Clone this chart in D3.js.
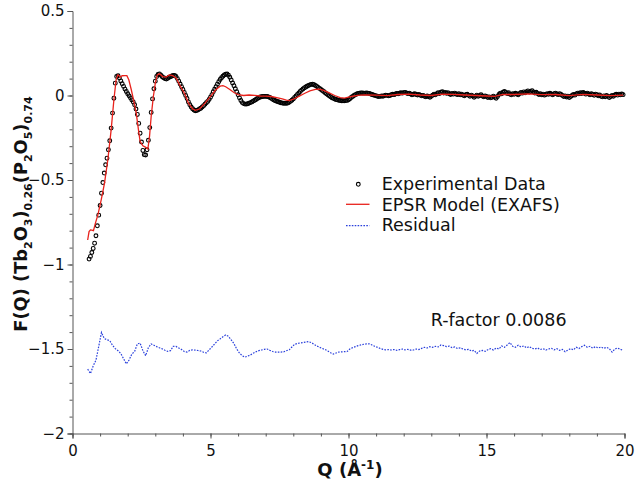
<!DOCTYPE html>
<html><head><meta charset="utf-8">
<script src="https://cdn.jsdelivr.net/npm/d3@7"></script>
<style>
body{margin:0;background:#fff}
svg{display:block;font-family:"DejaVu Sans",sans-serif}
</style>
</head><body>
<svg id="c" width="640" height="486"></svg>
<script>
// ---------------- data ----------------
// Experimental F(Q), sampled every 0.05 Å^-1, in four segments
const expStep = 0.05;
const expStarts = [0.60, 5.00, 10.00, 15.00];
const expA = [-0.968,-0.952,-0.929,-0.905,-0.874,-0.830,-0.771,-0.708,-0.651,-0.578,
  -0.515,-0.459,-0.410,-0.371,-0.321,-0.268,-0.193,-0.104,-0.016,0.073,
  0.112,0.117,0.103,0.086,0.070,0.054,0.038,0.024,0.010,-0.002,
  -0.014,-0.026,-0.038,-0.055,-0.080,-0.112,-0.165,-0.223,-0.275,-0.325,
  -0.350,-0.352,-0.321,-0.265,-0.190,-0.100,-0.020,0.040,0.085,0.112,
  0.124,0.128,0.120,0.111,0.105,0.101,0.098,0.102,0.108,0.111,
  0.115,0.118,0.119,0.113,0.100,0.085,0.068,0.052,0.036,0.018,
  0.000,-0.018,-0.038,-0.055,-0.068,-0.078,-0.086,-0.090,-0.089,-0.085,
  -0.080,-0.075,-0.068,-0.060,-0.052,-0.043,-0.035,-0.023];
const expB = [-0.010,0.005,0.022,0.037,0.052,0.067,0.082,0.095,0.105,0.114,
  0.121,0.126,0.127,0.120,0.108,0.092,0.074,0.058,0.040,0.022,
  0.004,-0.014,-0.030,-0.042,-0.048,-0.051,-0.051,-0.049,-0.045,-0.042,
  -0.038,-0.033,-0.028,-0.024,-0.018,-0.013,-0.009,-0.007,-0.006,-0.005,
  -0.005,-0.006,-0.008,-0.012,-0.017,-0.022,-0.027,-0.031,-0.034,-0.037,
  -0.040,-0.043,-0.045,-0.046,-0.046,-0.046,-0.045,-0.040,-0.034,-0.028,
  -0.020,-0.011,-0.002,0.006,0.015,0.024,0.032,0.039,0.045,0.050,
  0.055,0.059,0.063,0.066,0.067,0.064,0.059,0.054,0.048,0.042,
  0.036,0.030,0.024,0.017,0.010,0.004,-0.002,-0.008,-0.013,-0.017,
  -0.021,-0.024,-0.026,-0.028,-0.030,-0.031,-0.031,-0.031,-0.030,-0.029];
const expC = [-0.025,-0.019,-0.012,-0.006,0.000,0.005,0.009,0.012,0.014,0.015,
  0.015,0.014,0.014,0.015,0.014,0.012,0.009,0.006,0.003,0.001,
  -0.002,-0.004,-0.006,-0.005,-0.003,-0.004,-0.001,0.002,0.001,-0.002,
  0.000,0.004,0.007,0.005,0.009,0.012,0.010,0.013,0.016,0.014,
  0.017,0.018,0.015,0.012,0.014,0.009,0.004,0.007,0.010,0.006,
  0.003,0.006,0.002,-0.002,0.001,-0.004,-0.008,-0.003,-0.006,-0.010,
  -0.004,0.002,0.008,0.004,0.011,0.016,0.012,0.019,0.022,0.015,
  0.018,0.013,0.017,0.010,0.006,0.012,0.008,0.014,0.009,0.005,
  0.010,0.004,0.008,0.002,-0.002,0.004,0.007,0.001,-0.004,0.002,
  -0.003,-0.010,-0.004,0.002,-0.005,-0.001,0.004,-0.003,-0.008,-0.002];
const expD = [-0.006,-0.012,-0.008,-0.014,-0.010,-0.004,-0.011,-0.016,-0.006,0.006,
  0.014,0.010,0.019,0.024,0.018,0.012,0.016,0.008,0.004,0.011,
  0.007,0.013,0.009,0.004,0.012,0.018,0.014,0.021,0.016,0.022,
  0.027,0.020,0.024,0.029,0.021,0.015,0.019,0.012,0.006,0.010,
  0.004,0.008,0.002,0.006,0.011,0.007,0.013,0.008,0.004,0.010,
  0.014,0.009,0.005,0.011,0.006,0.000,-0.006,-0.002,-0.009,-0.004,
  -0.012,-0.006,0.000,0.006,0.002,0.009,0.014,0.010,0.016,0.012,
  0.018,0.013,0.008,0.014,0.009,0.004,0.010,0.006,0.001,0.008,
  0.004,-0.002,0.003,-0.004,-0.008,-0.002,-0.007,0.000,-0.005,-0.012,
  -0.006,0.000,-0.004,0.003,0.007,0.002,0.008,0.004,0.009,0.005];

// EPSR model (EXAFS) curve
const modelQ = [0.55,0.60,0.65,0.70,0.76,0.83,0.92,1.04,1.16,1.28,1.40,1.50,1.58,1.64,1.68,1.73,1.80,1.90,1.97,2.04,
  2.13,2.21,2.31,2.39,2.45,2.55,2.64,2.73,2.79,2.85,2.93,3.00,3.07,3.15,3.27,3.39,3.51,3.63,3.76,3.88,
  4.06,4.20,4.35,4.45,4.60,4.80,5.00,5.20,5.35,5.45,5.55,5.70,5.85,6.00,6.20,6.40,6.60,6.80,7.00,7.20,
  7.40,7.60,7.75,7.85,8.00,8.20,8.40,8.60,8.80,8.95,9.10,9.30,9.50,9.70,9.85,10.00,10.20,10.40,10.60,11.00,
  11.40,11.80,12.20,12.60,13.00,13.40,13.80,14.20,14.60,15.00,15.30,15.60,16.00,16.50,17.00,17.50,18.00,18.50,19.00,19.50,19.95];
const modelF = [-0.855,-0.805,-0.795,-0.797,-0.800,-0.755,-0.706,-0.617,-0.518,-0.380,-0.203,-0.025,0.093,0.122,0.118,0.109,0.117,0.118,0.117,0.093,
  0.034,-0.025,-0.104,-0.203,-0.272,-0.298,-0.305,-0.317,-0.243,-0.124,-0.006,0.073,0.122,0.128,0.112,0.109,0.122,0.117,0.103,0.063,
  0.012,-0.045,-0.078,-0.088,-0.080,-0.045,-0.005,0.035,0.055,0.058,0.052,0.035,0.018,0.005,0.000,0.003,0.001,-0.003,-0.004,-0.006,
  -0.012,-0.020,-0.028,-0.030,-0.022,-0.005,0.012,0.027,0.036,0.038,0.030,0.015,0.000,-0.012,-0.015,-0.010,-0.003,0.002,0.004,0.002,
  -0.001,0.006,0.008,0.003,0.000,0.008,0.007,0.003,0.000,-0.003,-0.005,0.006,0.006,0.010,0.005,0.006,-0.001,0.007,0.003,-0.001,0.002];

// Residual (offset by -1.5), sampled every 0.1 Å^-1
const resStep = 0.1;
const resStarts = [0.55, 5.05, 10.05, 15.05];
const resA = [-1.619,-1.645,-1.600,-1.566,-1.485,-1.402,-1.438,-1.445,-1.451,-1.478,
  -1.498,-1.510,-1.527,-1.557,-1.588,-1.565,-1.530,-1.515,-1.470,-1.465,
  -1.510,-1.540,-1.492,-1.470,-1.478,-1.486,-1.493,-1.499,-1.507,-1.514,
  -1.510,-1.484,-1.485,-1.494,-1.503,-1.515,-1.518,-1.508,-1.505,-1.507,
  -1.509,-1.512,-1.519,-1.523,-1.505];
const resB = [-1.488,-1.470,-1.452,-1.440,-1.428,-1.417,-1.425,-1.446,-1.468,-1.500,
  -1.524,-1.540,-1.548,-1.542,-1.535,-1.525,-1.516,-1.510,-1.506,-1.502,
  -1.500,-1.508,-1.515,-1.518,-1.518,-1.518,-1.517,-1.510,-1.505,-1.488,
  -1.472,-1.467,-1.464,-1.462,-1.459,-1.456,-1.462,-1.472,-1.482,-1.490,
  -1.497,-1.503,-1.512,-1.522,-1.530,-1.524,-1.518,-1.517,-1.516,-1.515];
const resC = [-1.500,-1.492,-1.486,-1.480,-1.476,-1.472,-1.470,-1.469,-1.476,-1.484,
  -1.490,-1.497,-1.502,-1.505,-1.504,-1.506,-1.503,-1.508,-1.504,-1.500,
  -1.505,-1.502,-1.507,-1.506,-1.500,-1.503,-1.496,-1.490,-1.494,-1.486,
  -1.490,-1.484,-1.488,-1.476,-1.480,-1.486,-1.483,-1.492,-1.488,-1.497,
  -1.493,-1.500,-1.505,-1.502,-1.512,-1.508,-1.526,-1.512,-1.508,-1.514];
const resD = [-1.504,-1.498,-1.506,-1.494,-1.500,-1.482,-1.490,-1.476,-1.462,-1.484,
  -1.490,-1.478,-1.488,-1.482,-1.493,-1.486,-1.496,-1.500,-1.494,-1.503,
  -1.498,-1.506,-1.500,-1.496,-1.505,-1.498,-1.508,-1.502,-1.516,-1.506,
  -1.498,-1.505,-1.490,-1.497,-1.486,-1.478,-1.490,-1.484,-1.495,-1.486,
  -1.494,-1.488,-1.496,-1.490,-1.498,-1.518,-1.500,-1.494,-1.502,-1.508];

const xMajor = [0, 5, 10, 15, 20];
const yMajor = [0.5, 0, -0.5, -1, -1.5, -2];
const legendLabels = ["Experimental Data", "EPSR Model (EXAFS)", "Residual"];
const rFactorLabel = "R-factor 0.0086";

// ---------------- build ----------------
function segPoints(starts, segs, step) {
  const pts = [];
  segs.forEach((arr, s) => arr.forEach((v, i) => pts.push([+(starts[s] + i * step).toFixed(3), v])));
  return pts;
}
const expPts = segPoints(expStarts, [expA, expB, expC, expD], expStep);
const resPts = segPoints(resStarts, [resA, resB, resC, resD], resStep);
const modelPts = modelQ.map((q, i) => [q, modelF[i]]);

const svg = d3.select("#c");
const x = d3.scaleLinear().domain([0, 20]).range([72.5, 624.5]);
const y = d3.scaleLinear().domain([-2, 0.5]).range([433.5, 11]);
const axisCol = "#555";

// axes
const gxMinor = svg.append("g").attr("transform", `translate(0,${y(-2)})`)
  .call(d3.axisBottom(x).tickValues(d3.range(0, 21)).tickSize(3).tickFormat(""));
const gx = svg.append("g").attr("transform", `translate(0,${y(-2)})`)
  .call(d3.axisBottom(x).tickValues(xMajor).tickSize(5).tickPadding(7).tickFormat(d3.format("d")));
const gyMinor = svg.append("g").attr("transform", `translate(${x(0)},0)`)
  .call(d3.axisLeft(y).tickValues(d3.range(0, 26).map(i => -2 + i / 10)).tickSize(3).tickFormat(""));
const gy = svg.append("g").attr("transform", `translate(${x(0)},0)`)
  .call(d3.axisLeft(y).tickValues(yMajor).tickSize(5).tickPadding(3).tickFormat(d3.format("~g")));
[gxMinor, gx, gyMinor, gy].forEach(g => {
  g.selectAll("path.domain").attr("stroke", axisCol).attr("stroke-width", 1);
  g.selectAll(".tick line").attr("stroke", axisCol).attr("stroke-width", 1);
  g.selectAll(".tick text").attr("fill", "#111").style("font-size", "15px").style("font-family", "DejaVu Sans");
});
gyMinor.select("path.domain").remove();
gxMinor.select("path.domain").remove();

// experimental data
svg.append("g").selectAll("circle").data(expPts).join("circle")
  .attr("cx", d => x(d[0])).attr("cy", d => y(d[1])).attr("r", 1.9)
  .attr("fill", "none").attr("stroke", "#000").attr("stroke-width", 1.1);

// model
const line = d3.line().x(d => x(d[0])).y(d => y(d[1]));
svg.append("path").attr("d", line(modelPts)).attr("fill", "none")
  .attr("stroke", "#e8221c").attr("stroke-width", 1.3);
// residual
svg.append("path").attr("d", line(resPts)).attr("fill", "none")
  .attr("stroke", "#2a40dc").attr("stroke-width", 1.2).attr("stroke-dasharray", "1.6,1.3");

// legend
const lg = svg.append("g").style("font-size", "17.5px").attr("fill", "#111");
lg.append("circle").attr("cx", 358.3).attr("cy", 184.3).attr("r", 1.9)
  .attr("fill", "none").attr("stroke", "#000").attr("stroke-width", 1.1);
lg.append("line").attr("x1", 346).attr("x2", 369.5).attr("y1", 204.3).attr("y2", 204.3)
  .attr("stroke", "#e8221c").attr("stroke-width", 1.3);
lg.append("line").attr("x1", 346).attr("x2", 369.5).attr("y1", 225.7).attr("y2", 225.7)
  .attr("stroke", "#2a40dc").attr("stroke-width", 1.2).attr("stroke-dasharray", "1.6,1.3");
[190, 210.5, 231].forEach((by, i) => lg.append("text").attr("x", 381.7).attr("y", by).text(legendLabels[i]));

// R-factor
svg.append("text").attr("x", 430.7).attr("y", 325.7).style("font-size", "17.5px")
  .attr("fill", "#111").text(rFactorLabel);

// x title
const xt = svg.append("text").attr("x", 350).attr("y", 476).attr("text-anchor", "middle")
  .style("font-size", "18px").style("font-weight", "bold").attr("fill", "#111");
xt.append("tspan").text("Q (Å");
xt.append("tspan").attr("dy", -7).style("font-size", "12px").text("-1");
xt.append("tspan").attr("dy", 7).text(")");

// y title
const parts = [["F(Q) (Tb",0],["2",1],["O",0],["3",1],[")",0],["0.26",1],["(P",0],["2",1],["O",0],["5",1],[")",0],["0.74",1]];
const yt = svg.append("text").attr("transform", "translate(26.5,214) rotate(-90)")
  .attr("text-anchor", "middle").style("font-size", "17.8px").style("font-weight", "bold").attr("fill", "#111");
let cur = 0;
parts.forEach(([t, sub]) => {
  const shift = sub ? 5 : 0;
  yt.append("tspan").attr("dy", shift - cur).style("font-size", sub ? "11px" : null).text(t);
  cur = shift;
});
</script>
</body></html>
